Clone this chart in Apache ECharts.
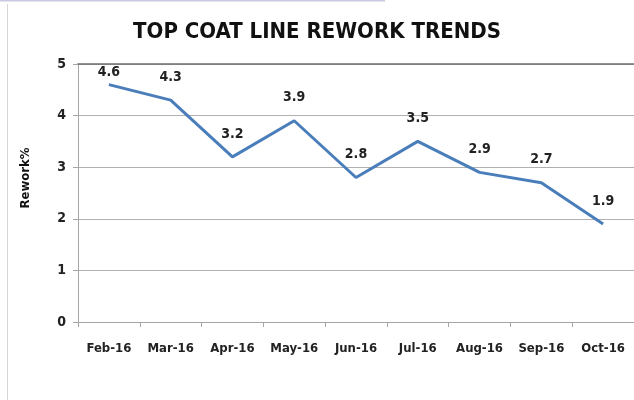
<!DOCTYPE html>
<html>
<head>
<meta charset="utf-8">
<script src="https://cdn.jsdelivr.net/npm/echarts@6/dist/echarts.min.js"></script>
<style>
    html, body { margin: 0; padding: 0; background: #fff; }
    #chart { width: 634px; height: 400px; }
</style>
</head>
<body>
<div id="chart"></div>
<script>
var months = ['Feb-16', 'Mar-16', 'Apr-16', 'May-16', 'Jun-16', 'Jul-16', 'Aug-16', 'Sep-16', 'Oct-16'];
var rework = [4.6, 4.3, 3.2, 3.9, 2.8, 3.5, 2.9, 2.7, 1.9];

var fontFam = "'DejaVu Sans Condensed', 'Liberation Sans Narrow', sans-serif";

var myChart = echarts.init(document.getElementById('chart'));

// first point sits near the top, its label is squeezed closer
var points = rework.map(function (v, i) {
    if (i === 0) {
        return { value: v, label: { distance: 4 } };
    }
    return v;
});

var option = {
    animation: false,
    title: {
        text: 'TOP COAT LINE REWORK TRENDS',
        left: 'center',
        top: 16,
        textStyle: {
            fontFamily: fontFam,
            fontSize: 22,
            fontWeight: 'bold',
            color: '#111'
        }
    },
    graphic: [
        { type: 'line', shape: { x1: 0, y1: 0.5, x2: 385, y2: 0.5 }, style: { stroke: '#c9c9e3', lineWidth: 2 } },
        { type: 'line', shape: { x1: 7.5, y1: 4, x2: 7.5, y2: 400 }, style: { stroke: '#d6d6d6', lineWidth: 1 } }
    ],
    grid: {
        left: 78,
        top: 64,
        width: 558,
        height: 258
    },
    xAxis: [{
        type: 'category',
        data: months,
        boundaryGap: true,
        axisLine: { lineStyle: { color: '#a6a6a6', width: 1 } },
        axisTick: { show: true, interval: 0, length: 5, lineStyle: { color: '#a6a6a6' } },
        axisLabel: {
            interval: 0,
            margin: 20,
            fontFamily: fontFam,
            fontSize: 13,
            fontWeight: 'bold',
            color: '#222'
        }
    }, {
        // darker frame line along the top of the plot
        type: 'category',
        data: months,
        position: 'top',
        axisLine: { lineStyle: { color: '#6f6f6f', width: 1.5 } },
        axisTick: { show: false },
        axisLabel: { show: false }
    }],
    yAxis: {
        type: 'value',
        min: 0,
        max: 5,
        interval: 1,
        name: 'Rework%',
        nameLocation: 'middle',
        nameGap: 46,
        nameTextStyle: {
            fontFamily: fontFam,
            fontSize: 13,
            fontWeight: 'bold',
            color: '#111',
            padding: [0, 0, 0, 30]
        },
        axisLine: { show: true, lineStyle: { color: '#a6a6a6' } },
        axisTick: { show: true, length: 5, lineStyle: { color: '#a6a6a6' } },
        axisLabel: {
            margin: 12,
            fontFamily: fontFam,
            fontSize: 14,
            fontWeight: 'bold',
            color: '#222'
        },
        splitLine: { lineStyle: { color: '#b0b0b0', width: 1 } }
    },
    series: [{
        type: 'line',
        data: points,
        symbol: 'circle',
        symbolSize: 2,
        showSymbol: true,
        itemStyle: { color: 'rgba(74,126,187,0)' },
        lineStyle: { color: '#4a7ebb', width: 3 },
        label: {
            show: true,
            position: 'top',
            distance: 15,
            fontFamily: fontFam,
            fontSize: 14,
            fontWeight: 'bold',
            color: '#222',
            opacity: 1,
            formatter: function (p) { return p.value.toFixed(1); }
        }
    }]
};
myChart.setOption(option);
</script>
</body>
</html>
